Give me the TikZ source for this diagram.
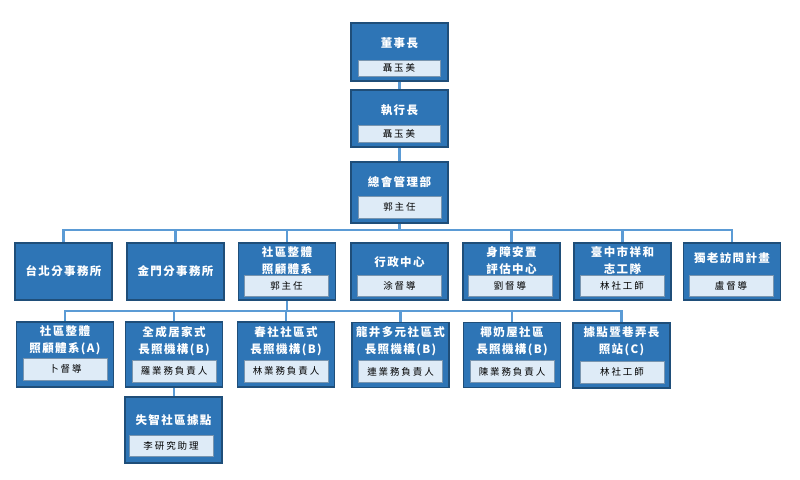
\documentclass[tikz,border=0pt]{standalone}
\usepackage{fontspec}
\usepackage{tikz}
\usetikzlibrary{calc}
\newfontfamily\titlefont[LetterSpace=12]{Noto Sans CJK TC}
\newfontfamily\subfont[LetterSpace=20]{Noto Sans CJK TC}
\definecolor{boxblue}{HTML}{2E75B6}
\definecolor{edgeblue}{HTML}{1F4E79}
\definecolor{linkblue}{HTML}{5B9BD5}
\definecolor{subfill}{HTML}{DEEBF7}
\tikzstyle{line} = [draw=linkblue, line width=2.5pt]
\tikzstyle{unit} = [rectangle, draw=edgeblue, line width=1.2pt, fill=boxblue,
                    minimum width=97pt, minimum height=57pt, inner sep=0pt]
\tikzstyle{title} = [text=white, align=center, inner sep=0pt,
                     font={\titlefont\bfseries\fontsize{11.5}{17}\selectfont}]
\tikzstyle{sub} = [rectangle, draw=edgeblue!60, line width=0.6pt, fill=subfill,
                   minimum width=84pt, minimum height=21pt, inner sep=0pt,
                   font={\subfont\fontsize{9.5}{11}\selectfont}]

\begin{document}
\begin{tikzpicture}[x=1pt, y=-1pt]
      \useasboundingbox (0,0) rectangle (800,479);
      % top of the tree
      \node [unit, minimum height=58pt] (board) at (399.5,52) {};
      \node [title] (board-t) at (399.5,43) {董事長};
      \node [sub, minimum width=82pt, minimum height=16pt] (board-n) at (399,68) {聶玉美};
      \node [unit] (ceo) at (399.5,118.5) {};
      \node [title] (ceo-t) at (399.5,110) {執行長};
      \node [sub, minimum width=82pt, minimum height=17pt] (ceo-n) at (399,133.5) {聶玉美};
      \node [unit, minimum height=61pt] (admin) at (399.5,192.5) {};
      \node [title] (admin-t) at (399.5,182) {總會管理部};
      \node [sub, minimum width=83pt, minimum height=22pt] (admin-n) at (399.5,207) {郭主任};
      % second row
      \node [unit] (taipei) at (63.5,271.5) {};
      \node [title] (taipei-t) at (63.5,271.5) {台北分事務所};
      \node [unit] (kinmen) at (175.5,271.5) {};
      \node [title] (kinmen-t) at (175.5,271.5) {金門分事務所};
      \node [unit] (care) at (287,271.5) {};
      \node [title] (care-t) at (287,261) {社區整體\\照顧體系};
      \node [sub] (care-n) at (286.5,286) {郭主任};
      \node [unit] (office) at (399.5,271.5) {};
      \node [title] (office-t) at (399.5,262) {行政中心};
      \node [sub] (office-n) at (399.5,286) {涂督導};
      \node [unit] (assess) at (511.5,271.5) {};
      \node [title] (assess-t) at (511.5,261) {身障安置\\評估中心};
      \node [sub] (assess-n) at (510,286) {劉督導};
      \node [unit] (volunteer) at (622.5,271.5) {};
      \node [title] (volunteer-t) at (622.5,261) {臺中市祥和\\志工隊};
      \node [sub] (volunteer-n) at (622,286) {林社工師};
      \node [unit] (elder) at (732,271.5) {};
      \node [title] (elder-t) at (732,258) {獨老訪問計畫};
      \node [sub] (elder-n) at (731,286) {盧督導};
      % third row
      \node [unit, minimum height=65pt] (careA) at (65,354.5) {};
      \node [title] (careA-t) at (65,340.5) {社區整體\\照顧體系(A)};
      \node [sub, minimum height=22pt] (careA-n) at (65.5,369) {卜督導};
      \node [unit, minimum height=65pt] (quancheng) at (174,354.5) {};
      \node [title] (quancheng-t) at (174,341) {全成居家式\\長照機構(B)};
      \node [sub, minimum height=22pt] (quancheng-n) at (174,371) {羅業務負責人};
      \node [unit, minimum height=65pt] (chunshe) at (286,354.5) {};
      \node [title] (chunshe-t) at (286,341) {春社社區式\\長照機構(B)};
      \node [sub, minimum height=22pt] (chunshe-n) at (286,371) {林業務負責人};
      \node [unit, minimum height=65pt] (longjing) at (400.5,355) {};
      \node [title] (longjing-t) at (400.5,341) {龍井多元社區式\\長照機構(B)};
      \node [sub, minimum height=22pt] (longjing-n) at (400.5,371.5) {連業務負責人};
      \node [unit, minimum height=65pt] (yenai) at (512,355) {};
      \node [title] (yenai-t) at (512,341) {椰奶屋社區\\長照機構(B)};
      \node [sub, minimum height=22pt] (yenai-n) at (512,371.5) {陳業務負責人};
      \node [unit, minimum height=65pt] (station) at (621.5,355.5) {};
      \node [title] (station-t) at (621.5,341.5) {據點暨巷弄長\\照站(C)};
      \node [sub, minimum height=22pt] (station-n) at (622,372) {林社工師};
      % under quancheng
      \node [unit, minimum height=66pt] (dementia) at (173.5,430) {};
      \node [title] (dementia-t) at (173.5,420) {失智社區據點};
      \node [sub, minimum height=21pt] (dementia-n) at (171,445.5) {李研究助理};
      % connectors
      \coordinate (bus1) at (399.5,230);
      \coordinate (bus2) at (287,311);
      \path [line] (board.south) -- (ceo.north);
      \path [line] (ceo.south) -- (admin.north);
      \path [line] (admin.south) -- (bus1);
      \path [line] (bus1) -| (taipei.north);
      \path [line] (bus1) -| (kinmen.north);
      \path [line] (bus1) -| (care.north);
      \path [line] (bus1) -| (assess.north);
      \path [line] (bus1) -| (volunteer.north);
      \path [line] (bus1) -| (elder.north);
      \path [line] (care.south) -- (bus2);
      \path [line] (bus2) -| (careA.north);
      \path [line] (bus2) -| (quancheng.north);
      \path [line] (bus2) -| (chunshe.north);
      \path [line] (bus2) -| (longjing.north);
      \path [line] (bus2) -| (yenai.north);
      \path [line] (bus2) -| (station.north);
      \path [line] (quancheng.south) -- (quancheng.south |- dementia.north);
    \end{tikzpicture}
\end{document}
